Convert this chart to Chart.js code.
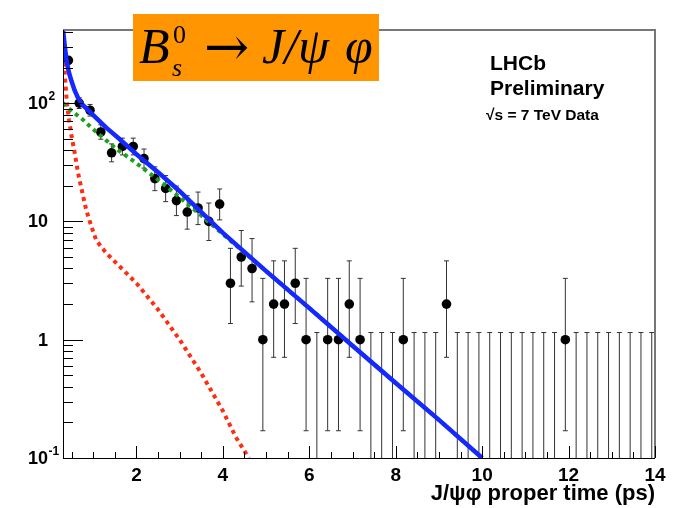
<!DOCTYPE html>
<html>
<head>
<meta charset="utf-8">
<script src="https://cdn.jsdelivr.net/npm/chart.js@4.4.1/dist/chart.umd.min.js"></script>
<style>
  html, body { margin: 0; padding: 0; background: #fff; }
</style>
</head>
<body>
<canvas id="myChart" width="679" height="508"></canvas>
<script>
// histogram bins (proper time, ps) and entries
const binCenters = [0.425, 0.675, 0.925, 1.175, 1.425, 1.675, 1.925, 2.175, 2.425, 2.675,
  2.925, 3.175, 3.425, 3.675, 3.925, 4.175, 4.425, 4.675, 4.925, 5.175,
  5.425, 5.675, 5.925, 6.175, 6.425, 6.675, 6.925, 7.175, 7.425, 7.675,
  7.925, 8.175, 8.425, 8.675, 8.925, 9.175, 9.425, 9.675, 9.925, 10.175,
  10.425, 10.675, 10.925, 11.175, 11.425, 11.675, 11.925, 12.175, 12.425, 12.675,
  12.925, 13.175, 13.425, 13.675, 13.925];
const counts = [230, 100, 87, 57, 38, 43, 43, 34, 23, 19,
  15, 12, 13, 10, 14, 3, 5, 4, 1, 2,
  2, 3, 1, 0, 1, 1, 2, 1, 0, 0,
  0, 1, 0, 0, 0, 2, 0, 0, 0, 0,
  0, 0, 0, 0, 0, 0, 1, 0, 0, 0,
  0, 0, 0, 0, 0];
const errLow = [15.2, 9.98, 9.3, 7.5, 6.1, 6.5, 6.5, 5.8, 4.8, 4.3,
  3.8, 3.4, 3.6, 3.1, 3.7, 1.63, 2.16, 1.91, 0.83, 1.29,
  1.29, 1.63, 0.83, 0, 0.83, 0.83, 1.29, 0.83, 0, 0,
  0, 0.83, 0, 0, 0, 1.29, 0, 0, 0, 0,
  0, 0, 0, 0, 0, 0, 0.83, 0, 0, 0,
  0, 0, 0, 0, 0];
const errHigh = [16.2, 11.0, 10.4, 8.6, 7.2, 7.6, 7.6, 6.9, 5.9, 5.4,
  4.9, 4.5, 4.7, 4.3, 4.8, 2.92, 3.38, 3.16, 2.30, 2.64,
  2.64, 2.92, 2.30, 1.15, 2.30, 2.30, 2.64, 2.30, 1.15, 1.15,
  1.15, 2.30, 1.15, 1.15, 1.15, 2.64, 1.15, 1.15, 1.15, 1.15,
  1.15, 1.15, 1.15, 1.15, 1.15, 1.15, 2.30, 1.15, 1.15, 1.15,
  1.15, 1.15, 1.15, 1.15, 1.15];

// fit curves
const totalX = [0.3, 0.33, 0.38, 0.44, 0.5, 0.57, 0.65, 0.75, 0.9, 1.0, 1.3, 1.6, 2.0, 2.5, 3.0, 3.5, 4.0, 5.0, 6.0, 7.0, 8.0, 9.0, 10.0];
const totalY = [420, 330, 230, 180, 152, 128, 110, 97, 86, 79, 62, 50, 37, 26, 18, 12, 8.0, 3.8, 1.85, 0.89, 0.43, 0.21, 0.1];
const signalX = [0.3, 0.5, 0.75, 1.0, 1.5, 2.0, 2.5, 3.0, 3.5, 4.0, 5.0, 6.0, 7.0, 8.0, 9.0, 10.0];
const signalY = [100, 86, 73, 60, 42, 31, 22.5, 16, 11.2, 7.8, 3.8, 1.85, 0.89, 0.43, 0.21, 0.1];
const bkgX = [0.3, 0.34, 0.39, 0.44, 0.5, 0.57, 0.65, 0.75, 0.84, 0.96, 1.07, 1.3, 1.6, 2.0, 2.5, 3.0, 3.5, 4.0, 4.3, 4.6];
const bkgY = [300, 180, 100, 72, 52, 38, 25.5, 17.3, 12.4, 9.0, 6.9, 5.4, 4.2, 3.0, 1.8, 1.0, 0.52, 0.25, 0.15, 0.1];

const xTicks = [2, 4, 6, 8, 10, 12, 14];
const yTicks = [0.1, 1, 10, 100];
const yTickBase = ["10", "1", "10", "10"];
const yTickExp = ["-1", "", "", "2"];

const SANS = '"Liberation Sans", Arial, sans-serif';
const SERIF = '"Liberation Serif", "Times New Roman", serif';

const rootStyle = {
  id: "rootStyle",
  beforeDatasetsDraw(chart) {
    const { ctx, chartArea: a, scales: { x, y } } = chart;
    ctx.save();
    ctx.beginPath();
    ctx.rect(a.left, a.top, a.right - a.left, a.bottom - a.top);
    ctx.clip();
    ctx.strokeStyle = "#333";
    ctx.lineWidth = 1;
    binCenters.forEach((c, i) => {
      const px = x.getPixelForValue(c);
      const top = y.getPixelForValue(counts[i] + errHigh[i]);
      const lowVal = counts[i] - errLow[i];
      const bot = y.getPixelForValue(Math.max(lowVal, 0.1));
      ctx.beginPath();
      ctx.moveTo(px, top);
      ctx.lineTo(px, bot);
      ctx.moveTo(px - 2.5, top);
      ctx.lineTo(px + 2.5, top);
      if (lowVal > 0.1) {
        ctx.moveTo(px - 2.5, bot);
        ctx.lineTo(px + 2.5, bot);
      }
      ctx.stroke();
    });
    ctx.restore();
  },
  afterDraw(chart) {
    const { ctx, chartArea: a, scales: { x, y } } = chart;
    ctx.save();

    // frame
    ctx.strokeStyle = "#777";
    ctx.lineWidth = 2;
    ctx.beginPath();
    ctx.moveTo(a.left, a.top);
    ctx.lineTo(a.right, a.top);
    ctx.lineTo(a.right, a.bottom);
    ctx.stroke();
    ctx.strokeStyle = "#000";
    ctx.lineWidth = 1;
    ctx.beginPath();
    ctx.moveTo(a.left + 0.5, a.top);
    ctx.lineTo(a.left + 0.5, a.bottom + 0.5);
    ctx.lineTo(a.right, a.bottom + 0.5);
    ctx.stroke();

    // y ticks (inside)
    ctx.beginPath();
    for (let e = -1; e <= 2; e++) {
      for (let m = 1; m <= 9; m++) {
        const v = m * Math.pow(10, e);
        if (v > y.max) break;
        const py = Math.round(y.getPixelForValue(v)) + 0.5;
        ctx.moveTo(a.left, py);
        ctx.lineTo(a.left + (m === 1 ? 20 : 10), py);
      }
    }
    // x ticks (inside)
    for (let t = 0.5; t <= 14; t += 0.5) {
      if (t < x.min) continue;
      const px = Math.round(x.getPixelForValue(t)) + 0.5;
      ctx.moveTo(px, a.bottom);
      ctx.lineTo(px, a.bottom - (t % 2 === 0 ? 12 : 6));
    }
    ctx.stroke();

    // tick labels
    ctx.fillStyle = "#000";
    ctx.font = "bold 19px " + SANS;
    ctx.textAlign = "center";
    ctx.textBaseline = "alphabetic";
    xTicks.forEach((t) => ctx.fillText(String(t), x.getPixelForValue(t), 481));

    yTicks.forEach((t, i) => {
      const py = y.getPixelForValue(t);
      ctx.font = "bold 18px " + SANS;
      ctx.textAlign = "right";
      ctx.textBaseline = "middle";
      ctx.fillText(yTickBase[i], 48, py + 1);
      if (yTickExp[i]) {
        ctx.font = "bold 12px " + SANS;
        ctx.textAlign = "left";
        ctx.fillText(yTickExp[i], 48.5, py - 6);
      }
    });

    // axis title
    ctx.font = "bold 22px " + SANS;
    ctx.textAlign = "right";
    ctx.textBaseline = "alphabetic";
    ctx.fillText("J/\u03c8\u03c6 proper time (ps)", a.right, 500);

    // LHCb label
    ctx.textAlign = "left";
    ctx.font = "bold 21px " + SANS;
    ctx.fillText("LHCb", 490, 70);
    ctx.fillText("Preliminary", 490, 95);
    ctx.font = "bold 15.5px " + SANS;
    ctx.fillText("\u221as = 7 TeV Data", 486, 120);

    // decay title box
    ctx.fillStyle = "#ff9500";
    ctx.fillRect(133, 14, 246, 67);
    ctx.fillStyle = "#000";
    ctx.font = "italic 50px " + SERIF;
    ctx.fillText("B", 139, 63);
    ctx.font = "26px " + SERIF;
    ctx.fillText("0", 173, 43);
    ctx.font = "italic 26px " + SERIF;
    ctx.fillText("s", 172, 76);
    ctx.font = "54px \"DejaVu Serif\", serif";
    ctx.fillText("\u2192", 204, 65);
    ctx.font = "italic 50px " + SERIF;
    ctx.fillText("J/\u03c8", 262, 63);
    ctx.fillText("\u03c6", 345, 63);

    ctx.restore();
  }
};

const toXY = (xs, ys) => xs.map((v, i) => ({ x: v, y: ys[i] }));

new Chart(document.getElementById("myChart"), {
  type: "scatter",
  data: {
    datasets: [
      {
        label: "total",
        data: toXY(totalX, totalY),
        showLine: true,
        borderColor: "rgb(20, 40, 255)",
        borderWidth: 4.5,
        pointRadius: 0,
        order: 1
      },
      {
        label: "signal",
        data: toXY(signalX, signalY),
        showLine: true,
        borderColor: "rgb(30, 160, 30)",
        borderWidth: 4,
        borderDash: [4, 4],
        pointRadius: 0,
        order: 2
      },
      {
        label: "background",
        data: toXY(bkgX, bkgY),
        showLine: true,
        borderColor: "rgb(255, 45, 20)",
        borderWidth: 4,
        borderDash: [4, 4],
        pointRadius: 0,
        order: 3
      },
      {
        label: "data",
        data: binCenters.map((c, i) => ({ x: c, y: counts[i] > 0 ? counts[i] : null })),
        backgroundColor: "#000",
        borderWidth: 0,
        pointRadius: 4.8,
        order: 4
      }
    ]
  },
  options: {
    responsive: false,
    animation: false,
    layout: { padding: { left: 63, right: 24, top: 30, bottom: 50 } },
    plugins: { legend: { display: false }, tooltip: { enabled: false } },
    scales: {
      x: { type: "linear", min: 0.3, max: 14, display: false },
      y: { type: "logarithmic", min: 0.1, max: 415, display: false }
    }
  },
  plugins: [rootStyle]
});
</script>
</body>
</html>
